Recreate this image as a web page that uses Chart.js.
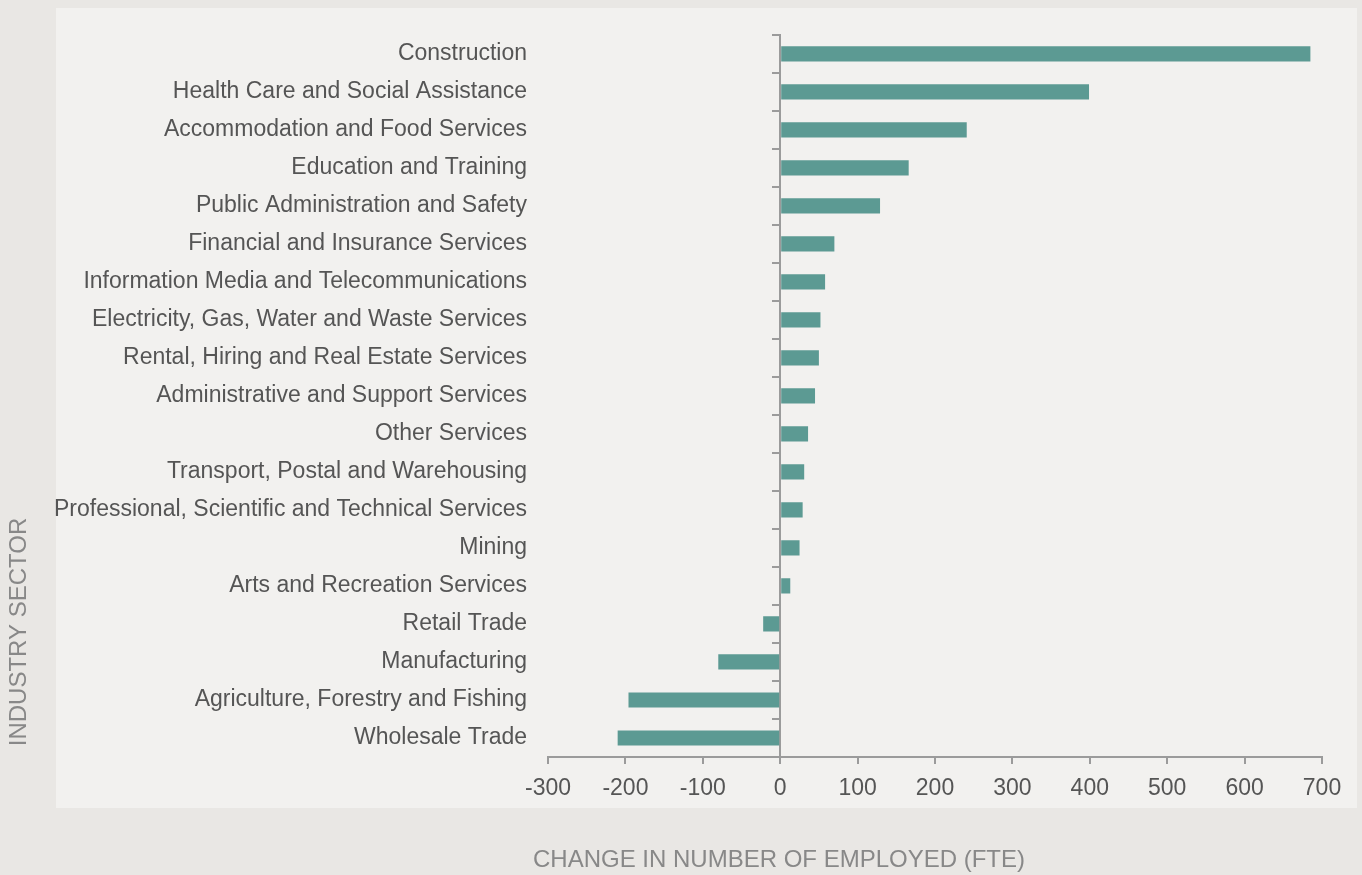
<!DOCTYPE html>
<html>
<head>
    <title>Change in Number of Employed by Industry Sector</title>
    <script src="https://cdn.jsdelivr.net/npm/chart.js"></script>
    <style>
        html, body { margin: 0; padding: 0; background: #e9e7e4; }
        #wrap { width: 1362px; height: 875px; }
    </style>
</head>
<body>
    <div id="wrap"><canvas id="myChart"></canvas></div>
    <script>
        // Data
        const sectors = [
            'Construction',
            'Health Care and Social Assistance',
            'Accommodation and Food Services',
            'Education and Training',
            'Public Administration and Safety',
            'Financial and Insurance Services',
            'Information Media and Telecommunications',
            'Electricity, Gas, Water and Waste Services',
            'Rental, Hiring and Real Estate Services',
            'Administrative and Support Services',
            'Other Services',
            'Transport, Postal and Warehousing',
            'Professional, Scientific and Technical Services',
            'Mining',
            'Arts and Recreation Services',
            'Retail Trade',
            'Manufacturing',
            'Agriculture, Forestry and Fishing',
            'Wholesale Trade'
        ];
        const changeFTE = [685, 399, 241, 166, 129, 70, 58, 52, 50, 45, 36, 31, 29, 25, 13, -22, -80, -196, -210];

        const xMin = -300;
        const xMax = 700;
        const xStep = 100;

        const xTitle = 'CHANGE IN NUMBER OF EMPLOYED (FTE)';
        const yTitle = 'INDUSTRY SECTOR';

        const fontFamily = 'Liberation Sans, Arial, sans-serif';
        const labelFont = { family: fontFamily, size: 23 };
        const axisGrey = '#9b9b9b';

        // Background: outer grey and lighter panel
        const panelBg = {
            id: 'panelBg',
            beforeDraw(chart) {
                const c = chart.ctx;
                c.save();
                c.fillStyle = '#e9e7e4';
                c.fillRect(0, 0, chart.width, chart.height);
                c.fillStyle = '#f2f1ef';
                c.fillRect(56, 8, 1301, 800);
                c.restore();
            }
        };

        // Axis titles placed where the reference has them
        const axisTitles = {
            id: 'axisTitles',
            afterDraw(chart) {
                const c = chart.ctx;
                c.save();
                c.fillStyle = '#888888';
                c.font = '24px ' + fontFamily;
                c.textAlign = 'center';
                c.textBaseline = 'middle';
                c.fillText(xTitle, 779, 860);
                c.translate(19, 632);
                c.rotate(-Math.PI / 2);
                c.fillText(yTitle, 0, 0);
                c.restore();
            }
        };

        const ctx = document.getElementById('myChart').getContext('2d');
        new Chart(ctx, {
            type: 'bar',
            data: {
                labels: sectors,
                datasets: [{
                    data: changeFTE,
                    backgroundColor: '#5c9a93',
                    borderWidth: 0,
                    barPercentage: 0.4,
                    categoryPercentage: 1.0
                }]
            },
            plugins: [panelBg, axisTitles],
            options: {
                indexAxis: 'y',
                responsive: true,
                maintainAspectRatio: false,
                animation: false,
                layout: { padding: { top: 34, right: 40, bottom: 0, left: 0 } },
                plugins: {
                    legend: { display: false },
                    tooltip: { enabled: false }
                },
                scales: {
                    x: {
                        type: 'linear',
                        position: 'bottom',
                        min: xMin,
                        max: xMax,
                        ticks: {
                            stepSize: xStep,
                            color: '#555555',
                            font: labelFont,
                            padding: 11
                        },
                        grid: {
                            drawOnChartArea: false,
                            drawTicks: true,
                            tickLength: 7,
                            color: axisGrey,
                            lineWidth: 2
                        },
                        border: { display: true, color: axisGrey, width: 2 },
                        afterFit(scale) { scale.height = 118; }
                    },
                    y: {
                        type: 'category',
                        position: 'left',
                        ticks: {
                            color: '#555555',
                            font: labelFont,
                            padding: 21
                        },
                        grid: { display: false, drawTicks: false },
                        border: { display: false },
                        afterFit(scale) { scale.width = 548; }
                    },
                    yZero: {
                        type: 'category',
                        axis: 'y',
                        position: { x: 0 },
                        offset: true,
                        ticks: { display: false },
                        grid: {
                            offset: true,
                            drawOnChartArea: false,
                            drawTicks: true,
                            tickLength: 7,
                            color: axisGrey,
                            lineWidth: 2
                        },
                        border: { display: true, color: axisGrey, width: 2 }
                    }
                }
            }
        });
    </script>
</body>
</html>
